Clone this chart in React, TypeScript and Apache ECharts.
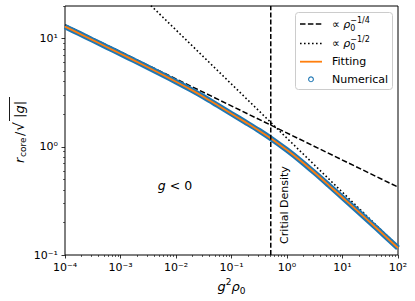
import React, { useEffect, useRef } from 'react';
import * as echarts from 'echarts';

// ---- data ----
const xValues = [
  0.0001, 0.000178, 0.000316, 0.000562, 0.001, 0.00178, 0.00316, 0.00562,
  0.01, 0.0178, 0.0316, 0.0562, 0.1, 0.178, 0.316, 0.562, 1, 1.78, 3.16,
  5.62, 10, 17.8, 31.6, 56.2, 100,
];
const fittingValues = [
  12.9, 11.18, 9.67, 8.37, 7.24, 6.26, 5.4, 4.65, 3.99, 3.41, 2.89, 2.42,
  2.02, 1.69, 1.41, 1.158, 0.933, 0.739, 0.575, 0.443, 0.34, 0.261, 0.2,
  0.1525, 0.116,
];
const numericalValues = [
  12.9, 11.18, 9.67, 8.37, 7.24, 6.26, 5.4, 4.65, 3.99, 3.41, 2.89, 2.42,
  2.02, 1.69, 1.41, 1.158, 0.933, 0.739, 0.575, 0.443, 0.34, 0.261, 0.2,
  0.1525, 0.116,
];
const quarterPowerX = [0.0001, 100];
const quarterPowerY = [13.4, 0.424];
const halfPowerX = [0.0001, 100];
const halfPowerY = [120, 0.12];
const criticalDensity = 0.51;

const xTickValues = [1e-4, 1e-3, 1e-2, 1e-1, 1, 10, 100];
const xTickLabels = ['10⁻⁴', '10⁻³', '10⁻²', '10⁻¹', '10⁰', '10¹', '10²'];
const yTickValues = [0.1, 1, 10];
const yTickLabels = ['10⁻¹', '10⁰', '10¹'];

const FONT = 'DejaVu Sans';
const BLUE = '#1f77b4';
const ORANGE = '#ff7f0e';

function minorTicks(fromExp: number, toExp: number, max: number) {
  const out: number[] = [];
  for (let e = fromExp; e < toExp; e++) {
    for (let m = 2; m <= 9; m++) {
      const v = m * Math.pow(10, e);
      if (v <= max * 1.0001) out.push(v);
    }
  }
  return out;
}

function labelFor(values: number[], labels: string[], v: number) {
  for (let i = 0; i < values.length; i++) {
    if (Math.abs(Math.log10(v) - Math.log10(values[i])) < 1e-6) return labels[i];
  }
  return '';
}

export default function App() {
  const ref = useRef<HTMLDivElement>(null);
  useEffect(() => {
    if (!ref.current) return;
    const chart = echarts.init(ref.current, undefined, { renderer: 'svg' });
    const pair = (xs: number[], ys: number[]) => xs.map((x, i) => [x, ys[i]]);
    const rich = {
      it: { fontStyle: 'italic', fontFamily: FONT, fontSize: 13, lineHeight: 18, verticalAlign: 'middle', color: '#000' },
      n: { fontFamily: FONT, fontSize: 13, lineHeight: 18, verticalAlign: 'middle', color: '#000' },
      sub: { fontFamily: FONT, fontSize: 9, lineHeight: 9, verticalAlign: 'bottom', color: '#000' },
      sup: { fontFamily: FONT, fontSize: 9, lineHeight: 9, verticalAlign: 'top', color: '#000' },
    };
    const legendRich = {
      t: { fontFamily: FONT, fontSize: 11, lineHeight: 16, fill: '#000' },
      it: { fontFamily: FONT, fontStyle: 'italic', fontSize: 11, lineHeight: 16, fill: '#000' },
      sub: { fontFamily: FONT, fontSize: 8, lineHeight: 8, verticalAlign: 'bottom', width: 0, fill: '#000' },
      sup: { fontFamily: FONT, fontSize: 8, lineHeight: 8, verticalAlign: 'top', fill: '#000' },
    };
    const lx = 300, lx2 = 322, tx = 332;
    chart.setOption({
      animation: false,
      backgroundColor: '#fff',
      grid: { left: 65, right: 17, top: 6, bottom: 46, show: true, borderColor: '#000', borderWidth: 1 },
      xAxis: [
        {
          type: 'log', logBase: 10, min: 1e-4, max: 100,
          name: '{it|g}{sup|2}{it|ρ}{sub|0}',
          nameLocation: 'middle', nameGap: 17,
          nameTextStyle: { rich },
          axisLine: { show: false },
          splitLine: { show: false },
          axisTick: { show: true, customValues: xTickValues, length: 3.5, lineStyle: { color: '#000', width: 0.8 } },
          axisLabel: {
            customValues: xTickValues, margin: 7, fontFamily: FONT, fontSize: 11, color: '#000',
            formatter: (v: number) => labelFor(xTickValues, xTickLabels, v),
          },
        },
        {
          type: 'log', logBase: 10, min: 1e-4, max: 100, position: 'bottom', gridIndex: 0,
          axisLine: { show: false }, splitLine: { show: false }, axisLabel: { show: false },
          axisTick: { show: true, customValues: minorTicks(-4, 2, 100), length: 2, lineStyle: { color: '#000', width: 0.6 } },
        },
      ],
      yAxis: [
        {
          type: 'log', logBase: 10, min: 0.1, max: 20,
          axisLine: { show: false },
          splitLine: { show: false },
          axisTick: { show: true, customValues: yTickValues, length: 3.5, lineStyle: { color: '#000', width: 0.8 } },
          axisLabel: {
            customValues: yTickValues, margin: 7, fontFamily: FONT, fontSize: 11, color: '#000',
            formatter: (v: number) => labelFor(yTickValues, yTickLabels, v),
          },
        },
        {
          type: 'log', logBase: 10, min: 0.1, max: 20, position: 'left', gridIndex: 0,
          axisLine: { show: false }, splitLine: { show: false }, axisLabel: { show: false },
          axisTick: { show: true, customValues: minorTicks(-1, 2, 20), length: 2, lineStyle: { color: '#000', width: 0.6 } },
        },
      ],
      series: [
        {
          name: '∝ ρ0^(−1/4)', type: 'line', data: pair(quarterPowerX, quarterPowerY), symbol: 'none',
          lineStyle: { color: '#000', width: 1.5, type: [5.5, 2.4] }, itemStyle: { color: '#000' }, z: 2,
        },
        {
          name: '∝ ρ0^(−1/2)', type: 'line', data: pair(halfPowerX, halfPowerY), symbol: 'none',
          lineStyle: { color: '#000', width: 1.6, type: [1.6, 2.4] }, itemStyle: { color: '#000' }, z: 2,
        },
        {
          name: 'Numerical', type: 'line', data: pair(xValues, numericalValues),
          symbol: 'none', smooth: 0.3,
          lineStyle: { color: BLUE, width: 5.5 }, itemStyle: { color: BLUE }, z: 3,
        },
        {
          name: 'Fitting', type: 'line', data: pair(xValues, fittingValues), symbol: 'none', smooth: 0.3,
          lineStyle: { color: ORANGE, width: 1.8 }, itemStyle: { color: ORANGE }, z: 4,
        },
        {
          name: 'Critical Density', type: 'line', data: [[criticalDensity, 0.1], [criticalDensity, 20]], symbol: 'none',
          lineStyle: { color: '#000', width: 1.5, type: [5, 2.2] }, z: 5,
        },
      ],
      graphic: [
        {
          type: 'text', x: 284, y: 205, rotation: Math.PI / 2,
          style: { text: 'Critial Density', fontFamily: FONT, fontSize: 11, fill: '#000', align: 'center', verticalAlign: 'middle' },
        },
        {
          type: 'text', x: 175, y: 185,
          style: {
            text: '{it|g}{n| < 0}', align: 'center', verticalAlign: 'middle',
            rich: {
              it: { fontStyle: 'italic', fontFamily: FONT, fontSize: 12.5, fill: '#000' },
              n: { fontFamily: FONT, fontSize: 12.5, fill: '#000' },
            },
          },
        },
        // y-axis title: r_core / sqrt(|g|)
        {
          type: 'group', x: 19, y: 163, rotation: Math.PI / 2,
          children: [
            { type: 'text', x: 0, y: 0, style: { text: 'r', fontFamily: FONT, fontStyle: 'italic', fontSize: 13, fill: '#000', verticalAlign: 'middle' } },
            { type: 'text', x: 6, y: 4, style: { text: 'core', fontFamily: FONT, fontSize: 9, fill: '#000', verticalAlign: 'middle' } },
            { type: 'text', x: 27, y: 0, style: { text: '/', fontFamily: FONT, fontSize: 13, fill: '#000', verticalAlign: 'middle' } },
            { type: 'text', x: 32, y: -0.5, style: { text: '√', fontFamily: FONT, fontSize: 14, fill: '#000', verticalAlign: 'middle' } },
            { type: 'text', x: 45, y: 0, style: { text: '|g|', fontFamily: FONT, fontStyle: 'italic', fontSize: 13, fill: '#000', verticalAlign: 'middle' } },
            { type: 'line', shape: { x1: 42, y1: -9.5, x2: 66, y2: -9.5 }, style: { stroke: '#000', lineWidth: 0.9 } },
          ],
        },
        // legend
        {
          type: 'rect', shape: { x: 295.5, y: 12.5, width: 97, height: 77, r: 3 },
          style: { fill: 'rgba(255,255,255,0.8)', stroke: '#cccccc', lineWidth: 1 }, z: 10,
        },
        { type: 'line', shape: { x1: lx, y1: 24, x2: lx2, y2: 24 }, style: { stroke: '#000', lineWidth: 1.5, lineDash: [5.5, 2.4] }, z: 11 },
        { type: 'line', shape: { x1: lx, y1: 43.5, x2: lx2, y2: 43.5 }, style: { stroke: '#000', lineWidth: 1.6, lineDash: [1.6, 2.4] }, z: 11 },
        { type: 'line', shape: { x1: lx, y1: 61.7, x2: lx2, y2: 61.7 }, style: { stroke: ORANGE, lineWidth: 1.8 }, z: 11 },
        { type: 'circle', shape: { cx: 311, cy: 79.3, r: 2.4 }, style: { fill: 'none', stroke: BLUE, lineWidth: 1.1 }, z: 11 },
        { type: 'text', x: tx, y: 24, style: { text: '{t|∝ }{it|ρ}{sub|0}{sup|−1/4}', verticalAlign: 'middle', rich: legendRich }, z: 11 },
        { type: 'text', x: tx, y: 43.5, style: { text: '{t|∝ }{it|ρ}{sub|0}{sup|−1/2}', verticalAlign: 'middle', rich: legendRich }, z: 11 },
        { type: 'text', x: tx, y: 61.7, style: { text: 'Fitting', fontFamily: FONT, fontSize: 11, fill: '#000', verticalAlign: 'middle' }, z: 11 },
        { type: 'text', x: tx, y: 79.3, style: { text: 'Numerical', fontFamily: FONT, fontSize: 11, fill: '#000', verticalAlign: 'middle' }, z: 11 },
      ],
    });
    return () => chart.dispose();
  }, []);
  return <div ref={ref} style={{ position: 'fixed', left: 0, top: 0, width: 415, height: 301, background: '#fff' }} />;
}
